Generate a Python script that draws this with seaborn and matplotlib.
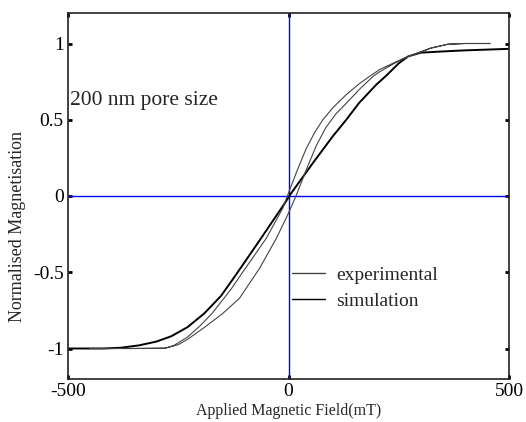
import numpy as np
import pandas as pd
import matplotlib
matplotlib.use("Agg")
import matplotlib.pyplot as plt
import seaborn as sns

# ---- data ----
sim_field = [-500, -420, -380, -340, -300, -266, -229, -191, -153, -120, -70,
             -9, 4, 55, 100, 131, 160, 199, 222, 250, 271, 300, 350, 400, 450, 500]
sim_mag = [-1.0, -1.0, -0.995, -0.98, -0.955, -0.92, -0.86, -0.77, -0.655, -0.52, -0.31,
           -0.05, 0.01, 0.215, 0.39, 0.50, 0.61, 0.73, 0.79, 0.87, 0.915, 0.94, 0.948,
           0.955, 0.96, 0.965]

exp_up_field = [-450, -350, -280, -250, -229, -190, -149, -111, -66, -28, -2, 17, 40, 63,
                85, 108, 135, 161, 192, 207, 240, 271, 300, 323, 361, 400, 457]
exp_up_mag = [-1.0, -1.0, -0.998, -0.975, -0.94, -0.86, -0.77, -0.67, -0.476, -0.28, -0.125,
              0.0, 0.17, 0.33, 0.45, 0.54, 0.62, 0.70, 0.785, 0.815, 0.87, 0.915, 0.945,
              0.97, 0.995, 1.0, 1.0]

exp_down_field = [457, 400, 361, 323, 300, 271, 244, 207, 184, 160, 131, 101, 78, 60, 40,
                  20, 0, -13, -51, -104, -130, -153, -172, -200, -229, -260, -280, -350, -450]
exp_down_mag = [1.0, 1.0, 0.995, 0.97, 0.945, 0.915, 0.88, 0.83, 0.785, 0.735, 0.665, 0.58,
                0.5, 0.42, 0.31, 0.17, 0.02, -0.08, -0.28, -0.50, -0.61, -0.695, -0.765,
                -0.85, -0.925, -0.98, -0.998, -1.0, -1.0]

x_ticks = [-500, 0, 500]
y_ticks = [-1, -0.5, 0, 0.5, 1]
y_tick_labels = ["-1", "-0.5", "0", "0.5", "1"]
x_tick_labels = ["-500", "0", "500"]

sim_df = pd.DataFrame({"field": sim_field, "mag": sim_mag})
exp_df = pd.DataFrame({"field": exp_up_field + exp_down_field,
                       "mag": exp_up_mag + exp_down_mag})

sns.set_style("ticks")
plt.rcParams["font.family"] = ["Liberation Serif", "DejaVu Serif"]
plt.rcParams["axes.unicode_minus"] = False

fig = plt.figure(figsize=(5.26, 4.22), dpi=100)
ax = fig.add_axes([68 / 526, 1 - 379 / 422, (509 - 68) / 526, (379 - 13) / 422])

ax.axhline(0, color="#0000ff", lw=1.0, zorder=1)
ax.axvline(0, color="#0000ff", lw=1.0, zorder=1)

sns.lineplot(data=exp_df, x="field", y="mag", sort=False, estimator=None,
             color="#111111", lw=0.8, ax=ax, label="experimental", zorder=3)
sns.lineplot(data=sim_df, x="field", y="mag", sort=False, estimator=None,
             color="black", lw=1.4, ax=ax, label="simulation", zorder=2)

ax.set_xlim(-500, 500)
ax.set_ylim(-1.2, 1.2)
ax.set_xticks(x_ticks)
ax.set_xticklabels(x_tick_labels)
ax.set_yticks(y_ticks)
ax.set_yticklabels(y_tick_labels)
ax.tick_params(direction="in", length=3, width=2, top=True, right=True,
               labelsize=14, pad=3, colors="black")
for s in ax.spines.values():
    s.set_linewidth(1.2)
    s.set_color("#222222")

ax.set_xlabel("Applied Magnetic Field(mT)", fontsize=11.5, labelpad=2)
ax.set_ylabel("Normalised Magnetisation", fontsize=13, labelpad=4)
ax.yaxis.set_label_coords(-0.095, 0.418)

ax.text(-495, 0.625, "200 nm pore size", fontsize=15.5, ha="left", va="center")

handles, labels = ax.get_legend_handles_labels()
handles[0].set_color("#444444")
leg = ax.legend(handles, labels, loc="upper left", bbox_to_anchor=(0.49, 0.33),
                frameon=False, fontsize=14, handlelength=1.7, handletextpad=0.6,
                labelspacing=0.45, borderaxespad=0)
for h in leg.legend_handles:
    h.set_linewidth(1.0)

fig.savefig("out.png", dpi=100)
